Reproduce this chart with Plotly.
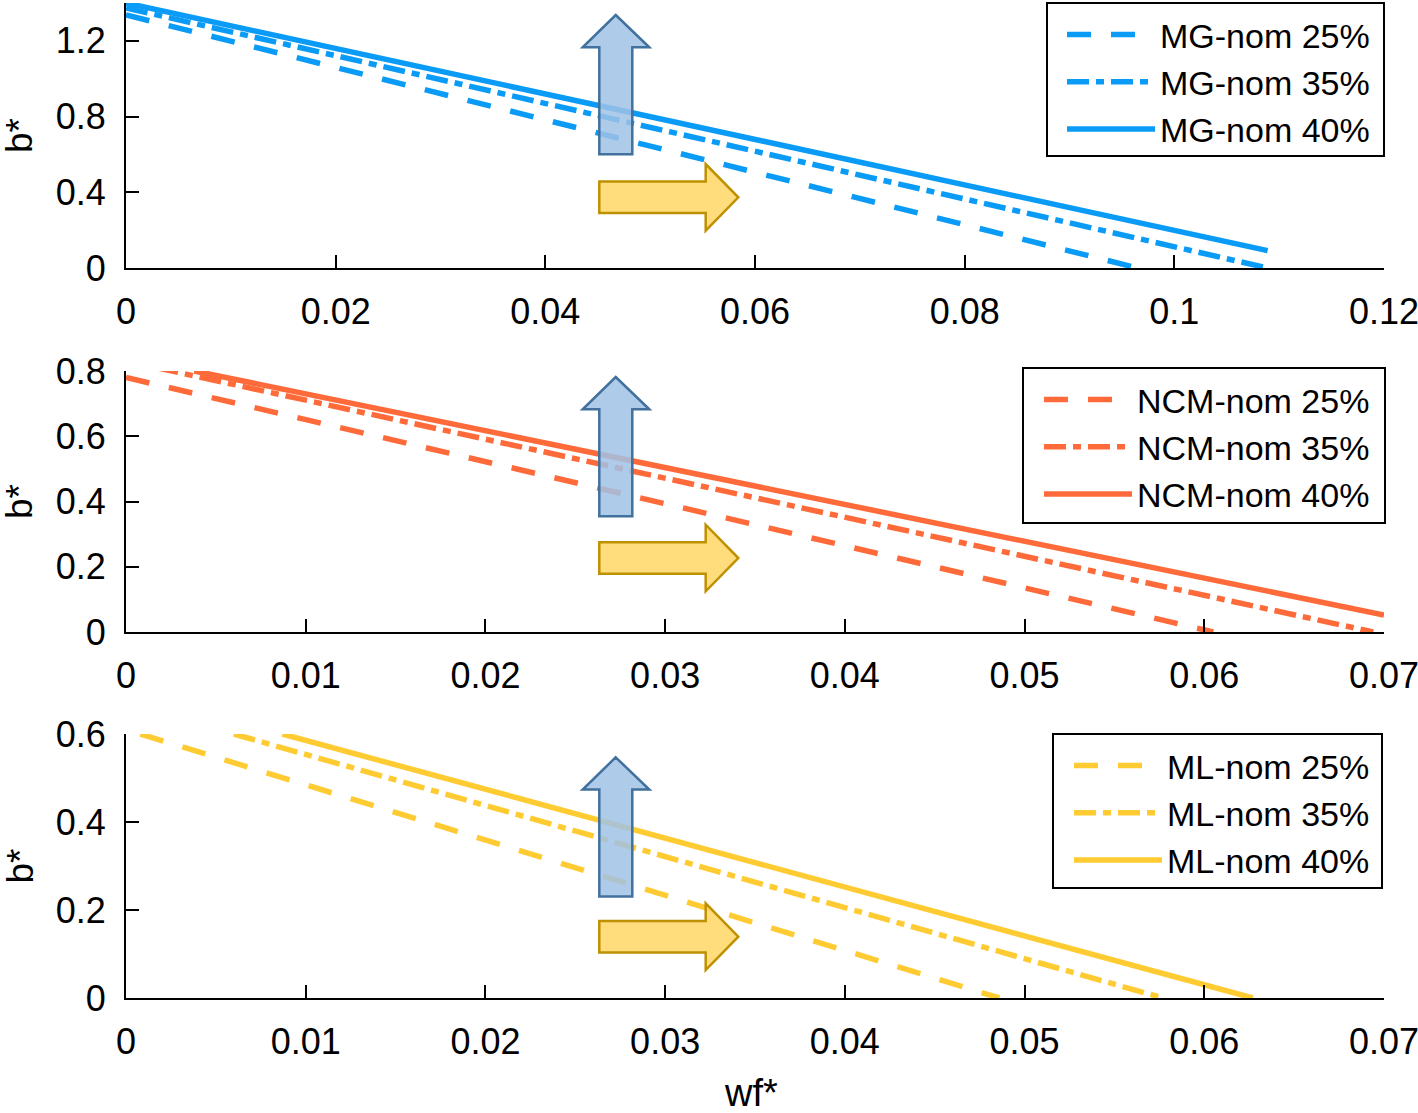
import plotly.graph_objects as go
from plotly.subplots import make_subplots

# ---------------- data ----------------
mg_labels = ["MG-nom 25%", "MG-nom 35%", "MG-nom 40%"]
mg_x = [[0.0, 0.0965], [0.0, 0.1089], [0.0, 0.1089]]
mg_y = [[1.337, 0.0], [1.374, 0.0], [1.40, 0.092]]

ncm_labels = ["NCM-nom 25%", "NCM-nom 35%", "NCM-nom 40%"]
ncm_x = [[0.0, 0.0605], [0.0017, 0.0694], [0.0038, 0.070]]
ncm_y = [[0.78, 0.0], [0.81, 0.0], [0.80, 0.052]]

ml_labels = ["ML-nom 25%", "ML-nom 35%", "ML-nom 40%"]
ml_x = [[0.0008, 0.0486], [0.0060, 0.0577], [0.0087, 0.0627]]
ml_y = [[0.60, 0.0], [0.60, 0.0], [0.60, 0.0]]

x_ranges = [[0, 0.12], [0, 0.07], [0, 0.07]]
y_ranges = [[0, 1.4], [0, 0.8], [0, 0.6]]
x_ticks = [[0, 0.02, 0.04, 0.06, 0.08, 0.1, 0.12],
           [0, 0.01, 0.02, 0.03, 0.04, 0.05, 0.06, 0.07],
           [0, 0.01, 0.02, 0.03, 0.04, 0.05, 0.06, 0.07]]
x_ticktext = [["0", "0.02", "0.04", "0.06", "0.08", "0.1", "0.12"],
              ["0", "0.01", "0.02", "0.03", "0.04", "0.05", "0.06", "0.07"],
              ["0", "0.01", "0.02", "0.03", "0.04", "0.05", "0.06", "0.07"]]
y_ticks = [[0, 0.4, 0.8, 1.2], [0, 0.2, 0.4, 0.6, 0.8], [0, 0.2, 0.4, 0.6]]
y_ticktext = [["0", "0.4", "0.8", "1.2"], ["0", "0.2", "0.4", "0.6", "0.8"],
              ["0", "0.2", "0.4", "0.6"]]

# ---------------- styling ----------------
W, H = 1418, 1113
ML_, MR_, MT_, MB_ = 126, 34, 3, 115
FONT = "Liberation Sans, Arial, sans-serif"
FS_TICK = 36
FS_LEG = 34
FS_TITLE = 37
colors = ["#0A9BF7", "#FF6A3A", "#FFCB33"]
dashes = ["24px,20px", "22px,7px,8px,7px", "solid"]

fig = make_subplots(rows=3, cols=1)

groups = [(mg_labels, mg_x, mg_y), (ncm_labels, ncm_x, ncm_y), (ml_labels, ml_x, ml_y)]
legend_names = ["legend", "legend2", "legend3"]
for gi, (labels, xs, ys) in enumerate(groups):
    for si in range(3):
        fig.add_trace(go.Scatter(
            x=xs[si], y=ys[si], mode="lines", name=labels[si],
            line=dict(color=colors[gi], width=5.5, dash=dashes[si]),
            legend=legend_names[gi],
        ), row=gi + 1, col=1)

# pixel -> paper helpers
plot_w = W - ML_ - MR_
plot_h = H - MT_ - MB_
def px(x):
    return (x - ML_) / plot_w
def py(y):
    return (H - MB_ - y) / plot_h

# panel pixel extents (top, bottom)
panels = [(3, 268), (371, 632), (734, 998)]
for i, (top, bot) in enumerate(panels):
    ax = "" if i == 0 else str(i + 1)
    fig.layout["yaxis" + ax].domain = [py(bot), py(top)]
    fig.layout["xaxis" + ax].domain = [0, 1]
    fig.layout["xaxis" + ax].update(
        range=x_ranges[i], tickvals=x_ticks[i], ticktext=x_ticktext[i],
        showline=True, linecolor="black", linewidth=2, ticks="inside",
        ticklen=13, tickwidth=2, tickcolor="black", showgrid=False,
        zeroline=False, tickfont=dict(family=FONT, size=FS_TICK, color="black"),
        ticklabelstandoff=11, mirror=False, automargin=False,
        ticklabeloverflow="allow",
    )
    fig.layout["yaxis" + ax].update(
        range=y_ranges[i], tickvals=y_ticks[i], ticktext=y_ticktext[i],
        showline=True, linecolor="black", linewidth=2, ticks="inside",
        ticklen=13, tickwidth=2, tickcolor="black", showgrid=False,
        zeroline=False, tickfont=dict(family=FONT, size=FS_TICK, color="black"),
        ticklabelstandoff=11, mirror=False, automargin=False,
        ticklabeloverflow="allow",
    )
    # y-axis title
    fig.add_annotation(
        xref="paper", yref="paper", x=px(-3), y=py((top + bot) / 2),
        text="b*", textangle=-90, showarrow=False,
        font=dict(family=FONT, size=FS_TITLE, color="black"),
        xanchor="left", yanchor="middle",
    )

# x-axis title
fig.add_annotation(
    xref="paper", yref="paper", x=px(751), y=py(1093), text="wf*",
    showarrow=False, font=dict(family=FONT, size=38, color="black"),
    xanchor="center", yanchor="middle",
)

# legend frames (white boxes with black border), legends drawn on top
legend_boxes = [(1047, 3, 1384, 156), (1023, 368, 1385, 523), (1053, 734, 1382, 888)]
for (x0, y0, x1, y1) in legend_boxes:
    fig.add_shape(type="rect", xref="paper", yref="paper",
                  x0=px(x0), x1=px(x1), y0=py(y1), y1=py(y0),
                  fillcolor="white", line=dict(color="black", width=2),
                  layer="above")

for i, name in enumerate(legend_names):
    top = legend_boxes[i][1]
    fig.layout[name] = dict(
        x=px(1375), xanchor="right", y=py(top + 3), yanchor="top",
        bgcolor="rgba(0,0,0,0)", borderwidth=0,
        font=dict(family=FONT, size=FS_LEG, color="black"),
        itemwidth=88, tracegroupgap=0,
    )

# arrows (decorative)
def up_arrow(tip_y):
    cx = 615.7
    pts = [(cx, tip_y), (649.3, tip_y + 32.3), (632.3, tip_y + 32.3),
           (632.3, tip_y + 139.3), (599.3, tip_y + 139.3), (599.3, tip_y + 32.3),
           (582.7, tip_y + 32.3)]
    return "M " + " L ".join(f"{px(a):.5f},{py(b):.5f}" for a, b in pts) + " Z"

def right_arrow(cy):
    pts = [(599.3, cy - 15.8), (705.7, cy - 15.8), (705.7, cy - 33.3),
           (738.3, cy), (705.7, cy + 33.3), (705.7, cy + 15.8), (599.3, cy + 15.8)]
    return "M " + " L ".join(f"{px(a):.5f},{py(b):.5f}" for a, b in pts) + " Z"

for tip, cy in [(15, 197.3), (377, 558), (757.3, 936.7)]:
    fig.add_shape(type="path", path=up_arrow(tip), xref="paper", yref="paper",
                  fillcolor="rgba(160,194,230,0.85)",
                  line=dict(color="#41719C", width=2.5), layer="above")
    fig.add_shape(type="path", path=right_arrow(cy), xref="paper", yref="paper",
                  fillcolor="rgba(255,217,110,0.9)",
                  line=dict(color="#BF9000", width=2.5), layer="above")

fig.update_layout(
    width=W, height=H, paper_bgcolor="white", plot_bgcolor="white",
    margin=dict(l=ML_, r=MR_, t=MT_, b=MB_, autoexpand=False),
    font=dict(family=FONT, size=FS_TICK, color="black"),
    showlegend=True,
)

fig.write_html("out.html", config={"displayModeBar": False},
               post_script="document.body.style.margin='0px';document.body.style.overflow='hidden';")
